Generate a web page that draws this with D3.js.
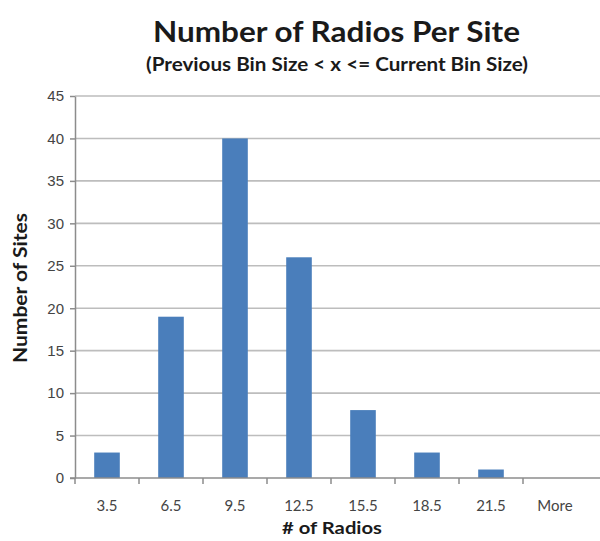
<!DOCTYPE html>
<html>
<head>
<meta charset="utf-8">
<script src="https://cdn.jsdelivr.net/npm/d3@7"></script>
<style>
  html, body { margin: 0; padding: 0; background: #fff; }
  svg { display: block; font-family: Lato, "Open Sans", sans-serif; }
</style>
</head>
<body>
<svg id="chart" width="600" height="541"></svg>
<script>
// Histogram bins (upper bound of each bin) and the count of sites in each
const bins = ["3.5", "6.5", "9.5", "12.5", "15.5", "18.5", "21.5", "More"];
const siteCounts = [3, 19, 40, 26, 8, 3, 1, 0];
const yTicks = [0, 5, 10, 15, 20, 25, 30, 35, 40, 45];

const svg = d3.select("#chart");
const plot = { left: 75, right: 587, top: 96, bottom: 478 };

const x = d3.scaleBand()
  .domain(bins)
  .range([plot.left, plot.right])
  .paddingInner(0.6)
  .paddingOuter(0.3);

const y = d3.scaleLinear()
  .domain([0, 45])
  .range([plot.bottom, plot.top]);

// Horizontal gridlines
svg.append("g")
  .selectAll("line")
  .data(yTicks.filter(d => d > 0))
  .join("line")
  .attr("x1", plot.left)
  .attr("x2", 600)
  .attr("y1", d => y(d))
  .attr("y2", d => y(d))
  .attr("stroke", "#bdbdbd")
  .attr("stroke-width", 1.6);

// Bars
svg.append("g")
  .selectAll("rect")
  .data(bins.map((b, i) => ({ bin: b, count: siteCounts[i] })))
  .join("rect")
  .attr("x", d => x(d.bin))
  .attr("width", x.bandwidth())
  .attr("y", d => y(d.count))
  .attr("height", d => y(0) - y(d.count))
  .attr("fill", "#4a7ebb");

// Y axis
const yAxis = svg.append("g")
  .attr("transform", `translate(${plot.left},0)`)
  .call(d3.axisLeft(y).tickValues(yTicks).tickSize(5).tickPadding(6).tickSizeOuter(0));
yAxis.select(".domain").attr("stroke", "#8c8c8c").attr("stroke-width", 1.5);
yAxis.selectAll(".tick line").attr("stroke", "#8c8c8c").attr("stroke-width", 1.5);
yAxis.selectAll(".tick text")
  .attr("fill", "#444")
  .style("font-size", "15px");

// X axis: tick marks sit on the bin boundaries, labels in the middle of each bin
const xAxisG = svg.append("g").attr("transform", `translate(0,${plot.bottom})`);
xAxisG.append("line")
  .attr("x1", plot.left - 5).attr("x2", 600)
  .attr("stroke", "#8c8c8c").attr("stroke-width", 1.5);
const boundaries = bins.map((b, i) => plot.left + i * (plot.right - plot.left) / bins.length);
xAxisG.selectAll("line.tick")
  .data(boundaries)
  .join("line")
  .attr("class", "tick")
  .attr("x1", d => d).attr("x2", d => d)
  .attr("y1", 0).attr("y2", 6)
  .attr("stroke", "#8c8c8c").attr("stroke-width", 1.5);
xAxisG.selectAll("text")
  .data(bins)
  .join("text")
  .attr("x", d => x(d) + x.bandwidth() / 2)
  .attr("y", 33)
  .attr("text-anchor", "middle")
  .attr("fill", "#444")
  .style("font-size", "15px")
  .text(d => d);

// Titles
svg.append("text")
  .attr("x", 336.5).attr("y", 42)
  .attr("text-anchor", "middle")
  .attr("fill", "#1a1a1a")
  .attr("textLength", 367).attr("lengthAdjust", "spacingAndGlyphs")
  .style("font-size", "28px").style("font-weight", "bold")
  .text("Number of Radios Per Site");

svg.append("text")
  .attr("x", 337).attr("y", 71)
  .attr("text-anchor", "middle")
  .attr("fill", "#1a1a1a")
  .attr("textLength", 382).attr("lengthAdjust", "spacingAndGlyphs")
  .style("font-size", "18px").style("font-weight", "bold")
  .text("(Previous Bin Size < x <= Current Bin Size)");

svg.append("text")
  .attr("x", 332).attr("y", 534)
  .attr("text-anchor", "middle")
  .attr("fill", "#1a1a1a")
  .attr("textLength", 100).attr("lengthAdjust", "spacingAndGlyphs")
  .style("font-size", "17px").style("font-weight", "bold")
  .text("# of Radios");

svg.append("text")
  .attr("transform", "translate(27,288) rotate(-90)")
  .attr("text-anchor", "middle")
  .attr("fill", "#1a1a1a")
  .attr("textLength", 150).attr("lengthAdjust", "spacingAndGlyphs")
  .style("font-size", "18px").style("font-weight", "bold")
  .text("Number of Sites");
</script>
</body>
</html>
